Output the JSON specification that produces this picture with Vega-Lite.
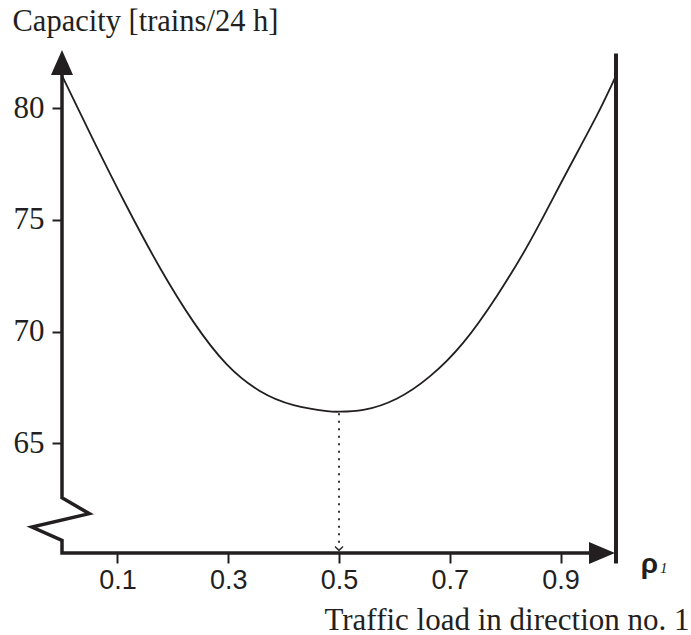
{
  "$schema": "https://vega.github.io/schema/vega-lite/v6.json",
  "width": 554,
  "height": 503,
  "autosize": "none",
  "padding": {"left": 62, "top": 50, "right": 75, "bottom": 82},
  "background": "white",
  "config": {
    "view": {"stroke": null},
    "axis": {"grid": false, "domain": false}
  },
  "datasets": {
    "curve": [
      {"rho": 0.0, "capacity": 81.45},
      {"rho": 0.057, "capacity": 78.55},
      {"rho": 0.117, "capacity": 75.6},
      {"rho": 0.177, "capacity": 72.85},
      {"rho": 0.237, "capacity": 70.45},
      {"rho": 0.297, "capacity": 68.55},
      {"rho": 0.357, "capacity": 67.35},
      {"rho": 0.418, "capacity": 66.72},
      {"rho": 0.478, "capacity": 66.45},
      {"rho": 0.5, "capacity": 66.42},
      {"rho": 0.544, "capacity": 66.5},
      {"rho": 0.604, "capacity": 67.0},
      {"rho": 0.664, "capacity": 68.0},
      {"rho": 0.724, "capacity": 69.5},
      {"rho": 0.785, "capacity": 71.6},
      {"rho": 0.845, "capacity": 74.05},
      {"rho": 0.905, "capacity": 76.85},
      {"rho": 0.965, "capacity": 79.65},
      {"rho": 1.0, "capacity": 81.45}
    ],
    "frame": [
      {"i": 0, "rho": 0, "capacity": 82.0},
      {"i": 1, "rho": 0, "capacity": 62.57},
      {"i": 2, "rho": 0.0493, "capacity": 61.86},
      {"i": 3, "rho": -0.0543, "capacity": 61.26},
      {"i": 4, "rho": 0, "capacity": 60.66},
      {"i": 5, "rho": 0, "capacity": 60.1},
      {"i": 6, "rho": 0.975, "capacity": 60.1}
    ],
    "one": [{}]
  },
  "layer": [
    {
      "data": {"name": "curve"},
      "mark": {"type": "line", "interpolate": "natural", "color": "#231f20", "strokeWidth": 1.8},
      "encoding": {
        "x": {
          "field": "rho",
          "type": "quantitative",
          "scale": {"domain": [0, 1], "nice": false, "zero": false},
          "axis": {
            "values": [0.1, 0.3, 0.5, 0.7, 0.9],
            "format": ".1f",
            "tickSize": 10,
            "tickWidth": 2,
            "tickColor": "#231f20",
            "labelFont": "Liberation Sans",
            "labelFontSize": 27,
            "labelColor": "#231f20",
            "labelPadding": 4,
            "title": "Traffic load in direction no. 1",
            "titleFont": "Liberation Serif",
            "titleFontSize": 31,
            "titleFontWeight": "normal",
            "titleColor": "#231f20",
            "titleAlign": "right",
            "titleBaseline": "alphabetic",
            "titleX": 627,
            "titleY": 76
          }
        },
        "y": {
          "field": "capacity",
          "type": "quantitative",
          "scale": {"domain": [60.1, 82.6], "nice": false, "zero": false},
          "axis": {
            "values": [65, 70, 75, 80],
            "tickSize": 10,
            "tickWidth": 2,
            "tickColor": "#231f20",
            "labelFont": "Liberation Serif",
            "labelFontSize": 31,
            "labelColor": "#231f20",
            "labelPadding": 8,
            "title": "Capacity [trains/24 h]",
            "titleFont": "Liberation Serif",
            "titleFontSize": 30.5,
            "titleFontWeight": "normal",
            "titleColor": "#231f20",
            "titleAngle": 0,
            "titleAlign": "left",
            "titleBaseline": "alphabetic",
            "titleX": -50,
            "titleY": -20
          }
        }
      }
    },
    {
      "data": {"name": "frame"},
      "mark": {"type": "line", "color": "#231f20", "strokeWidth": 3.5, "strokeJoin": "miter", "strokeCap": "butt"},
      "encoding": {
        "x": {"field": "rho", "type": "quantitative"},
        "y": {"field": "capacity", "type": "quantitative"},
        "order": {"field": "i"}
      }
    },
    {
      "data": {"name": "one"},
      "mark": {"type": "rule", "color": "#231f20", "strokeWidth": 4},
      "encoding": {
        "x": {"datum": 1, "type": "quantitative"},
        "y": {"datum": 59.63, "type": "quantitative"},
        "y2": {"datum": 82.44}
      }
    },
    {
      "data": {"name": "one"},
      "mark": {"type": "point", "shape": "M0,-1L0.88,1L-0.88,1Z", "size": 625, "filled": true, "fill": "#231f20", "strokeWidth": 0, "opacity": 1},
      "encoding": {
        "x": {"datum": 0, "type": "quantitative"},
        "y": {"datum": 82.04, "type": "quantitative"}
      }
    },
    {
      "data": {"name": "one"},
      "mark": {"type": "point", "shape": "M1,0L-1,-0.85L-1,0.85Z", "size": 676, "filled": true, "fill": "#231f20", "strokeWidth": 0, "opacity": 1},
      "encoding": {
        "x": {"datum": 0.9747, "type": "quantitative"},
        "y": {"datum": 60.1, "type": "quantitative"}
      }
    },
    {
      "data": {"name": "one"},
      "mark": {"type": "rule", "color": "#231f20", "strokeWidth": 1.8, "strokeDash": [2, 5.5]},
      "encoding": {
        "x": {"datum": 0.5, "type": "quantitative"},
        "y": {"datum": 66.35, "type": "quantitative"},
        "y2": {"datum": 60.3}
      }
    },
    {
      "data": {"name": "one"},
      "mark": {"type": "point", "shape": "M-1,-1L0,0L1,-1", "size": 64, "filled": false, "stroke": "#231f20", "strokeWidth": 1.3, "opacity": 1},
      "encoding": {
        "x": {"datum": 0.5, "type": "quantitative"},
        "y": {"datum": 60.21, "type": "quantitative"}
      }
    },
    {
      "data": {"name": "one"},
      "mark": {"type": "text", "text": "ρ", "font": "Liberation Sans", "fontWeight": "bold", "fontSize": 28, "align": "center", "baseline": "alphabetic", "color": "#231f20"},
      "encoding": {
        "x": {"datum": 1.0605, "type": "quantitative"},
        "y": {"datum": 59.22, "type": "quantitative"}
      }
    },
    {
      "data": {"name": "one"},
      "mark": {"type": "text", "text": "1", "font": "Liberation Serif", "fontStyle": "italic", "fontSize": 15, "align": "left", "baseline": "alphabetic", "color": "#231f20"},
      "encoding": {
        "x": {"datum": 1.0794, "type": "quantitative"},
        "y": {"datum": 59.22, "type": "quantitative"}
      }
    }
  ]
}
